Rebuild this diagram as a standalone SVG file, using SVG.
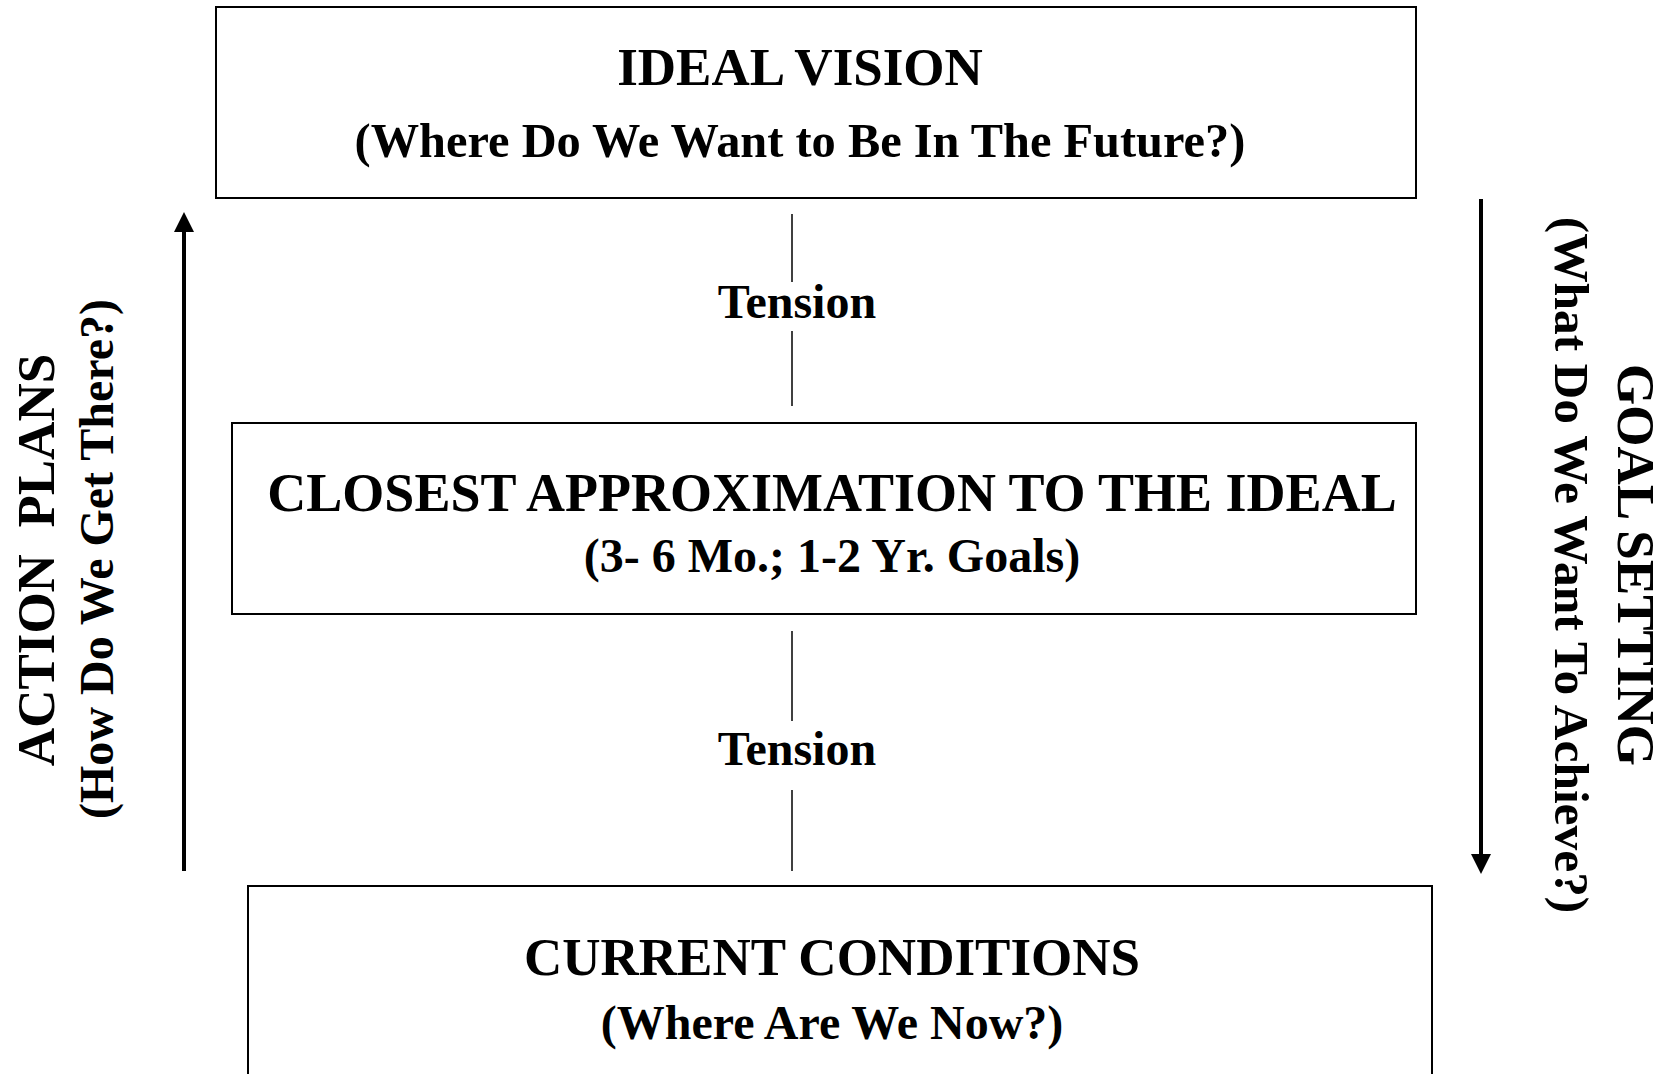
<svg xmlns="http://www.w3.org/2000/svg" width="1662" height="1074" viewBox="0 0 1662 1074">
<defs>
<style>
.box{fill:#fff;stroke:#000;stroke-width:2}
.t{font-family:"Liberation Serif","Times New Roman",serif;font-weight:bold;fill:#000;text-anchor:middle}
.h{font-size:53px}
.s{font-size:48px}
.tn{font-size:48px}
.line{stroke:#000;stroke-width:1.5;fill:none}
.arrow{stroke:#000;stroke-width:4;fill:none}
</style>
<marker id="ah" markerWidth="5" markerHeight="5" refX="2.5" refY="2.5" orient="auto" markerUnits="strokeWidth" viewBox="0 0 5 5">
<path d="M0,0 L5,2.5 L0,5 Z" fill="#000"/>
</marker>
</defs>
<rect width="1662" height="1074" fill="#fff"/>
<g id="ideal-vision">
<rect class="box" x="216" y="7" width="1200" height="191"/>
<text class="t h" x="800" y="85">IDEAL VISION</text>
<text class="t s" x="800" y="157" style="font-size:48.4px">(Where Do We Want to Be In The Future?)</text>
</g>
<g id="closest-approximation">
<rect class="box" x="232" y="423" width="1184" height="191"/>
<text class="t h" x="832" y="511" style="font-size:54px">CLOSEST APPROXIMATION TO THE IDEAL</text>
<text class="t s" x="832" y="572">(3- 6 Mo.; 1-2 Yr. Goals)</text>
</g>
<g id="current-conditions">
<rect class="box" x="248" y="886" width="1184" height="220"/>
<text class="t h" x="832" y="975">CURRENT CONDITIONS</text>
<text class="t s" x="832" y="1039">(Where Are We Now?)</text>
</g>
<g id="action-plans">
<text class="t h" transform="translate(54,560) rotate(-90)" xml:space="preserve">ACTION  PLANS</text>
<text class="t s" transform="translate(113,559) rotate(-90)">(How Do We Get There?)</text>
</g>
<g id="goal-setting">
<text class="t h" transform="translate(1618,565) rotate(90)">GOAL SETTING</text>
<text class="t s" transform="translate(1555,565) rotate(90)" style="font-size:49.4px">(What Do We Want To Achieve?)</text>
</g>
<g id="connectors">
<line class="line" x1="792" y1="214" x2="792" y2="282"/>
<text class="t tn" x="797" y="318">Tension</text>
<line class="line" x1="792" y1="331" x2="792" y2="406"/>
<line class="line" x1="792" y1="631" x2="792" y2="721"/>
<text class="t tn" x="797" y="765">Tension</text>
<line class="line" x1="792" y1="790" x2="792" y2="871"/>
<line class="arrow" x1="184" y1="871" x2="184" y2="222" marker-end="url(#ah)"/>
<line class="arrow" x1="1481" y1="199" x2="1481" y2="864" marker-end="url(#ah)"/>
</g>
</svg>
